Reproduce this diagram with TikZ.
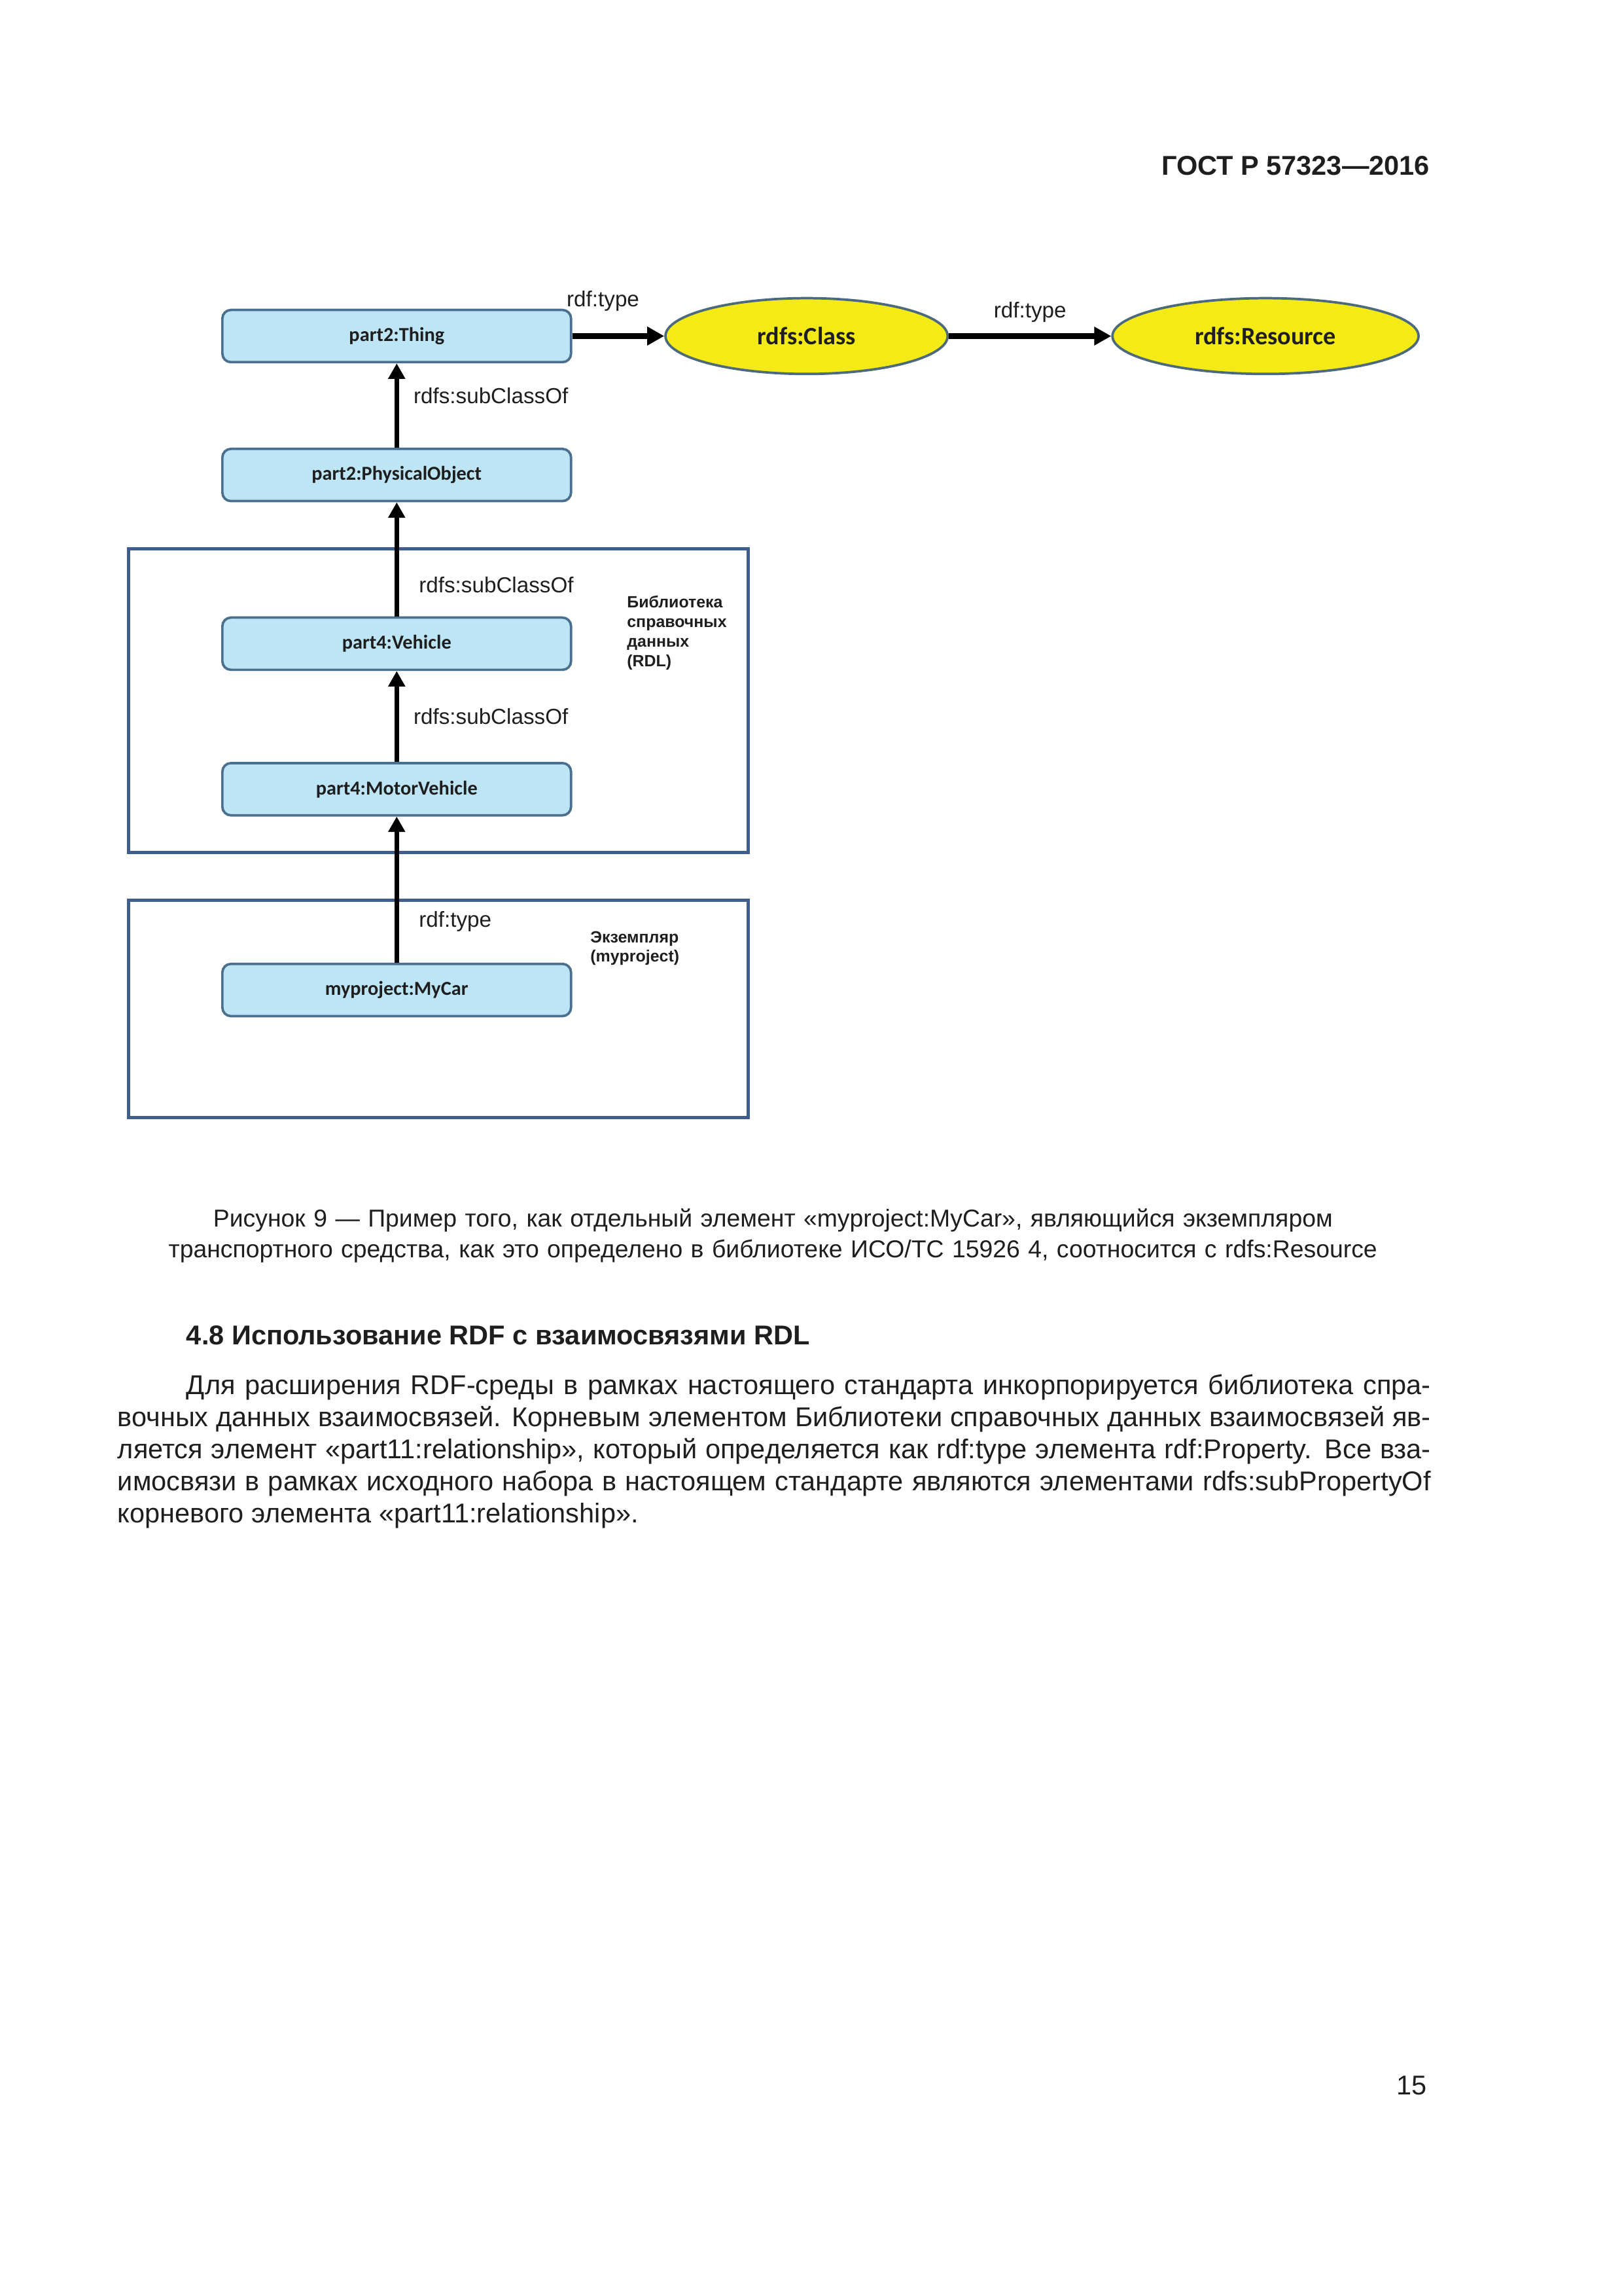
\documentclass[tikz,border=0pt]{standalone}
\usepackage{fontspec}
\setmainfont{Liberation Sans}
\newfontfamily\carlito{Carlito}
\usetikzlibrary{shapes.geometric, arrows.meta, positioning}
\definecolor{boxfill}{HTML}{BEE5F5}
\definecolor{boxline}{HTML}{4A6F8F}
\definecolor{ellfill}{HTML}{F4EA16}
\definecolor{ellline}{HTML}{4D6A7D}
\definecolor{frameline}{HTML}{3F5E8C}
\definecolor{inktext}{HTML}{1E1E1E}
\hyphenpenalty=10000
\exhyphenpenalty=10000
\tikzset{
    cls/.style={rectangle, draw=boxline, fill=boxfill, line width=0.9pt, rounded corners=1.1mm, minimum width=45.1mm, minimum height=6.75mm, text centered, font=\carlito\bfseries\fontsize{7.3}{8}\selectfont},
    rdfsnode/.style={ellipse, draw=ellline, fill=ellfill, line width=0.9pt, minimum height=9.8mm, font=\carlito\bfseries\fontsize{9.2}{10}\selectfont},
    rel/.style={font=\fontsize{8}{9}\selectfont, inner sep=0pt},
    frame/.style={draw=frameline, line width=1.2pt, fill=white},
    upline/.style={line width=1.6pt, -{Triangle[length=2mm, width=2.1mm]}},
    typeline/.style={line width=2.2pt, -{Triangle[length=2.2mm, width=2.3mm]}}
}

\begin{document}
\begin{tikzpicture}[x=0.18936mm, y=-0.18936mm, text=inktext]
    \useasboundingbox (0,0) rectangle (1109,1568);
    \node (gost) [anchor=base east, inner sep=0pt, font=\bfseries\fontsize{10}{12}\selectfont] at (977,119.7) {ГОСТ Р 57323—2016};

    % frames of the two parts
    \draw[frame] (88,375) rectangle (511,582);
    \draw[frame] (88,615) rectangle (511,763);

    \node (thing) [cls] at (271,229.5) {part2:Thing};
    \node (physobj) [cls, below=10.9mm of thing] {part2:PhysicalObject};
    \node (vehicle) [cls, below=14.75mm of physobj] {part4:Vehicle};
    \node (motorveh) [cls, below=11.75mm of vehicle] {part4:MotorVehicle};
    \node (mycar) [cls, below=18.9mm of motorveh] {myproject:MyCar};
    \node (rdfsclass) [rdfsnode, minimum width=36.5mm, right=11.9mm of thing] {rdfs:Class};
    \node (rdfsres) [rdfsnode, minimum width=39.6mm, right=21mm of rdfsclass] {rdfs:Resource};

    \node (rdllabel) [anchor=north west, align=left, inner sep=0pt, font=\bfseries\fontsize{6}{7.2}\selectfont] at (428,406.5) {Библиотека\\справочных\\данных\\(RDL)};
    \node (instlabel) [anchor=north west, align=left, inner sep=0pt, font=\bfseries\fontsize{6}{7.2}\selectfont] at (403,635.5) {Экземпляр\\(myproject)};

    \draw[upline] (physobj) -- node[rel, right=1.9mm, pos=0.62] (sc1) {rdfs:subClassOf} (thing);
    \draw[upline] (vehicle) -- node[rel, right=2.6mm, pos=0.275] (sc2) {rdfs:subClassOf} (physobj);
    \draw[upline] (motorveh) -- node[rel, right=1.9mm, pos=0.5] (sc3) {rdfs:subClassOf} (vehicle);
    \draw[upline] (mycar) -- node[rel, right=2.6mm, pos=0.28] (ty1) {rdf:type} (motorveh);
    \draw[typeline] (thing) -- node[rel, at start, anchor=south west, xshift=-1.1mm, yshift=2.8mm] (ty2) {rdf:type} (rdfsclass);
    \draw[typeline] (rdfsclass) -- node[rel, above=1.4mm] (ty3) {rdf:type} (rdfsres);

    \node (caption) [anchor=base, text width=185mm, align=center, inner sep=0pt, font=\fontsize{9}{11.3}\selectfont] at (528,837.7) {Рисунок 9 — Пример того, как отдельный элемент «myproject:MyCar», являющийся экземпляром\\транспортного средства, как это определено в библиотеке ИСО/ТС 15926 4, соотносится с rdfs:Resource};

    \node (heading) [anchor=base west, inner sep=0pt, font=\bfseries\fontsize{10}{12}\selectfont] at (127,918.3) {4.8 Использование RDF с взаимосвязями RDL};
    \node (para) [anchor=base west, inner sep=0pt, text width=169.86mm, align=justify, font=\fontsize{10}{11.8}\selectfont] at (80,952.3) {\hspace*{8.9mm}Для расширения RDF-среды в рамках настоящего стандарта инкорпорируется библиотека спра-\linebreak
    вочных данных взаимосвязей. Корневым элементом Библиотеки справочных данных взаимосвязей яв-\linebreak
    ляется элемент «part11:relationship», который определяется как rdf:type элемента rdf:Property. Все вза-\linebreak
    имосвязи в рамках исходного набора в настоящем стандарте являются элементами rdfs:subPropertyOf\linebreak
    корневого элемента «part11:relationship».};

    \node (pagenum) [anchor=base east, inner sep=0pt, font=\fontsize{10}{12}\selectfont] at (975,1430.7) {15};
\end{tikzpicture}
\end{document}
